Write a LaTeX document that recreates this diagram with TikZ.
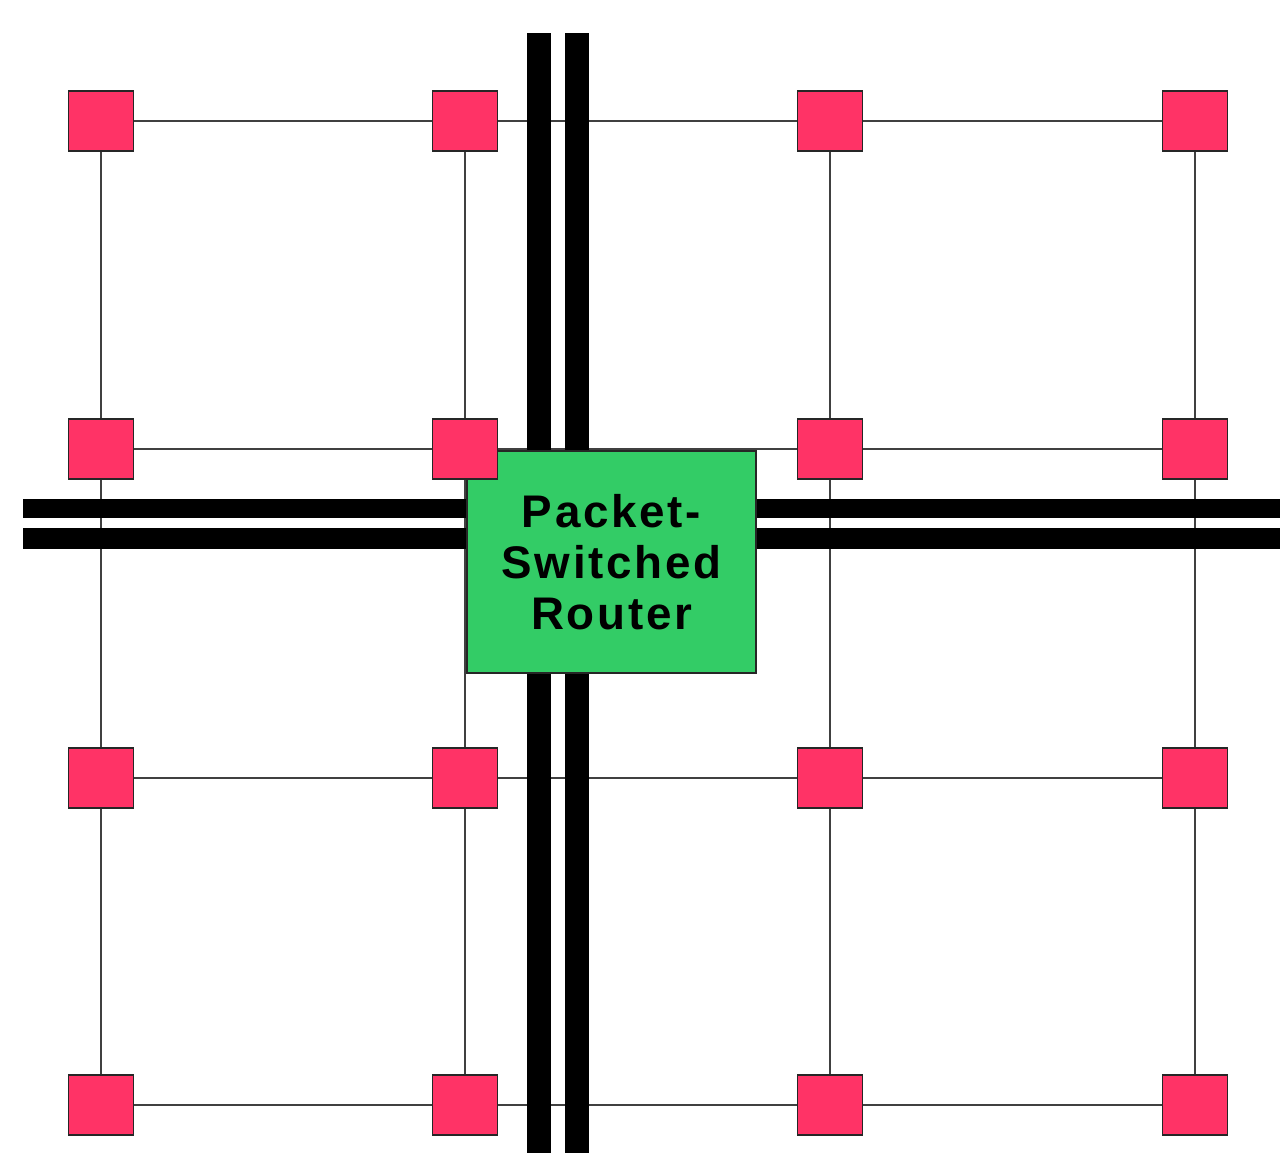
\documentclass[tikz,border=0pt]{standalone}
\usepackage{fontspec}
\newfontfamily\routerfont{Liberation Sans}[LetterSpace=6]
\definecolor{padred}{HTML}{FF3366}
\definecolor{routergreen}{HTML}{33CC66}
\tikzset{
  pad/.style={draw=black!85, line width=0.4pt, fill=padred, minimum width=0.65cm, minimum height=0.6cm, inner sep=0pt},
  wire/.style={draw=black!75, line width=0.4pt},
  bus/.style={fill=black, draw=none},
  router/.style={draw=black!85, line width=0.4pt, fill=routergreen, minimum width=2.89cm, minimum height=2.22cm, inner sep=0pt, align=center, font={\routerfont\bfseries\fontsize{13}{14.6}\selectfont}}
}
\begin{document}
\begin{tikzpicture}[x=0.01cm, y=-0.01cm]
\useasboundingbox (0,0) rectangle (1280,1153);
% grid points
\coordinate (c11) at (101,121);
\coordinate (c12) at (465,121);
\coordinate (c13) at (830,121);
\coordinate (c14) at (1195,121);
\coordinate (c21) at (101,449);
\coordinate (c22) at (465,449);
\coordinate (c23) at (830,449);
\coordinate (c24) at (1195,449);
\coordinate (c31) at (101,778);
\coordinate (c32) at (465,778);
\coordinate (c33) at (830,778);
\coordinate (c34) at (1195,778);
\coordinate (c41) at (101,1105);
\coordinate (c42) at (465,1105);
\coordinate (c43) at (830,1105);
\coordinate (c44) at (1195,1105);
% thin links
\path [wire] (c11) edge (c12) (c12) edge (c13) (c13) edge (c14);
\path [wire] (c21) edge (c22) (c22) edge (c23) (c23) edge (c24);
\path [wire] (c31) edge (c32) (c32) edge (c33) (c33) edge (c34);
\path [wire] (c41) edge (c42) (c42) edge (c43) (c43) edge (c44);
\path [wire] (c11) edge (c21) (c21) edge (c31) (c31) edge (c41);
\path [wire] (c12) edge (c22) (c22) edge (c32) (c32) edge (c42);
\path [wire] (c13) edge (c23) (c23) edge (c33) (c33) edge (c43);
\path [wire] (c14) edge (c24) (c24) edge (c34) (c34) edge (c44);
% buses
\fill [bus] (527,33) rectangle (551,1153);
\fill [bus] (565,33) rectangle (589,1153);
\fill [bus] (23,499) rectangle (1280,518);
\fill [bus] (23,528) rectangle (1280,549);
% router
\node [router] (psr) at (611.5,562) {Packet-\\Switched\\Router};
% pads
\node [pad] (p11) at (c11) {};
\node [pad] (p12) at (c12) {};
\node [pad] (p13) at (c13) {};
\node [pad] (p14) at (c14) {};
\node [pad] (p21) at (c21) {};
\node [pad] (p22) at (c22) {};
\node [pad] (p23) at (c23) {};
\node [pad] (p24) at (c24) {};
\node [pad] (p31) at (c31) {};
\node [pad] (p32) at (c32) {};
\node [pad] (p33) at (c33) {};
\node [pad] (p34) at (c34) {};
\node [pad] (p41) at (c41) {};
\node [pad] (p42) at (c42) {};
\node [pad] (p43) at (c43) {};
\node [pad] (p44) at (c44) {};
\end{tikzpicture}
\end{document}
